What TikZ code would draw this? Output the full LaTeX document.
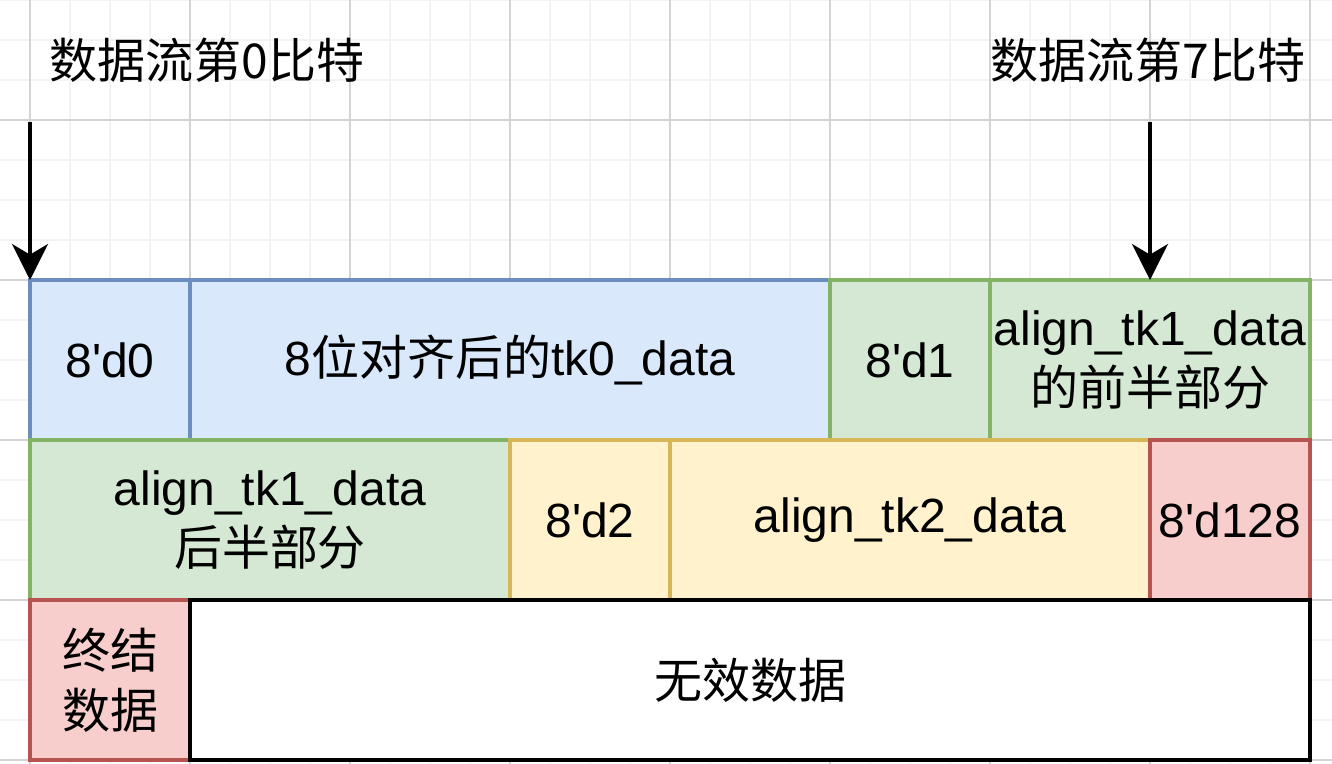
\documentclass[tikz,border=0pt]{standalone}
\usepackage{fontspec}
\setmainfont{Liberation Sans}
\newfontfamily\cjk{Noto Sans CJK SC}
\usetikzlibrary{arrows.meta}

\definecolor{blueFill}{HTML}{DAE8FC}
\definecolor{blueLine}{HTML}{6C8EBF}
\definecolor{greenFill}{HTML}{D5E8D4}
\definecolor{greenLine}{HTML}{82B366}
\definecolor{yellowFill}{HTML}{FFF2CC}
\definecolor{yellowLine}{HTML}{D6B656}
\definecolor{redFill}{HTML}{F8CECC}
\definecolor{redLine}{HTML}{B85450}
\definecolor{gridMinor}{HTML}{F3F3F3}
\definecolor{gridMajor}{HTML}{D3D3D3}

\tikzset{
  cell/.style={draw, line width=3pt, anchor=north west, outer sep=0pt, inner sep=0pt,
    minimum height=120pt, align=center, font=\fontsize{36}{45}\selectfont},
  bluecell/.style={cell, draw=blueLine, fill=blueFill},
  greencell/.style={cell, draw=greenLine, fill=greenFill},
  yellowcell/.style={cell, draw=yellowLine, fill=yellowFill},
  redcell/.style={cell, draw=redLine, fill=redFill},
  voidcell/.style={cell, draw=black, fill=white},
  bitlabel/.style={font=\fontsize{36}{45}\selectfont\cjk, inner sep=0pt},
  bitarrow/.style={-{Stealth[length=27pt,width=27pt,inset=8pt]}, line width=3pt},
  minorgrid/.style={draw=gridMinor, line width=1.5pt},
  majorgrid/.style={draw=gridMajor, line width=1.5pt}
}

\begin{document}
\begin{tikzpicture}[x=0.75pt,y=0.75pt,yscale=-1,xscale=1]
\useasboundingbox (0,0) rectangle (1332,764);
\fill[white] (0,0) rectangle (1332,764);

%Grid
\foreach \x in {30,70,...,1310} \draw[minorgrid] (\x,0) -- (\x,764);
\foreach \y in {0,40,...,760} \draw[minorgrid] (0,\y) -- (1332,\y);
\foreach \x in {30,190,...,1310} \draw[majorgrid] (\x,0) -- (\x,764);
\foreach \y in {120,280,...,760} \draw[majorgrid] (0,\y) -- (1332,\y);

%Labels
\node[bitlabel] (lab0) at (207,60) {数据流第0比特};
\node[bitlabel] (lab7) at (1148,60) {数据流第7比特};

%Row 1
\node[bluecell, minimum width=120pt] (d0) at (30,280) {8\textquotesingle d0};
\node[bluecell, minimum width=480pt] (tkzero) at (190,280) {8{\cjk 位对齐后的}tk0\_data};
\node[greencell, minimum width=120pt] (d1) at (830,280) {8\textquotesingle d1};
\node[greencell, minimum width=240pt] (tkonea) at (990,280) {align\_tk1\_data\\{\cjk 的前半部分}};

%Row 2
\node[greencell, minimum width=360pt] (tkoneb) at (30,440) {align\_tk1\_data\\{\cjk 后半部分}};
\node[yellowcell, minimum width=120pt] (d2) at (510,440) {8\textquotesingle d2};
\node[yellowcell, minimum width=360pt] (tktwo) at (670,440) {align\_tk2\_data};
\node[redcell, minimum width=120pt] (dend) at (1150,440) {8\textquotesingle d128};

%Row 3
\node[redcell, minimum width=120pt] (term) at (30,600) {{\cjk 终结}\\{\cjk 数据}};
\node[voidcell, minimum width=840pt] (invalid) at (190,600) {\cjk 无效数据};

%Arrows
\coordinate (s0) at (30,122);
\coordinate (s7) at (1150,122);
\draw[bitarrow] (s0) -- (d0.north west);
\draw[bitarrow] (s7) -- (tkonea.north);

\end{tikzpicture}
\end{document}
